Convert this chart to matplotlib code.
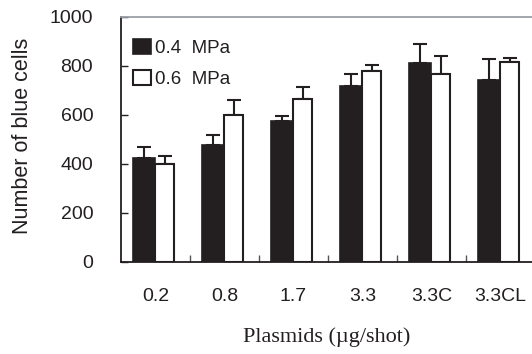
import numpy as np
import matplotlib
matplotlib.use("Agg")
import matplotlib.pyplot as plt

categories = ["0.2", "0.8", "1.7", "3.3", "3.3C", "3.3CL"]
mpa04 = [426, 476, 576, 718, 812, 743]
mpa04_err = [43, 41, 21, 48, 79, 86]
mpa06 = [401, 599, 667, 780, 766, 816]
mpa06_err = [32, 62, 49, 23, 75, 18]

dark = "#231f20"
plt.rcParams["font.family"] = ["Liberation Sans", "DejaVu Sans"]

fig = plt.figure(figsize=(5.32, 3.54), dpi=100)
ax = fig.add_axes([0.2274, 0.2599, 0.7726, 0.6921])

x = np.arange(len(categories))
w_black, w_white = 0.32, 0.27

b1 = ax.bar(x - w_black / 2, mpa04, w_black, color=dark, edgecolor=dark, linewidth=1.2,
            label="0.4  MPa", zorder=2)
b2 = ax.bar(x + w_white / 2, mpa06, w_white, color="white", edgecolor=dark, linewidth=1.5,
            label="0.6  MPa", zorder=2)
ax.errorbar(x - w_black / 2, mpa04, yerr=[np.zeros(len(x)), mpa04_err], fmt="none",
            ecolor=dark, elinewidth=1.5, capsize=5, capthick=1.5, zorder=1)
ax.errorbar(x + w_white / 2, mpa06, yerr=[np.zeros(len(x)), mpa06_err], fmt="none",
            ecolor=dark, elinewidth=1.5, capsize=5, capthick=1.5, zorder=1)

ax.set_xlim(-0.5, 5.46)
ax.set_ylim(0, 1000)
ax.set_yticks([0, 200, 400, 600, 800, 1000])
ax.set_xticks(x)
ax.set_xticklabels(categories)
ax.set_xticks(np.arange(0.5, 5.0, 1.0), minor=True)
ax.tick_params(axis="x", which="major", length=0, pad=19, labelsize=14, colors=dark)
ax.tick_params(axis="x", which="minor", direction="in", length=5, width=1, color="#555")
ax.tick_params(axis="y", direction="in", length=5, width=1, pad=20, labelsize=14,
               colors=dark)

for s in ["left", "bottom"]:
    ax.spines[s].set_color(dark)
    ax.spines[s].set_linewidth(1.3)
ax.spines["right"].set_visible(False)
ax.spines["top"].set_color("#9aa0a6")
ax.spines["top"].set_linewidth(1.3)

ax.set_ylabel("Number of blue cells", fontsize=15.5, color=dark)
ax.yaxis.set_label_coords(-0.215, 0.515)
ax.set_xlabel("Plasmids (µg/shot)", fontsize=16, family=["Liberation Serif", "DejaVu Serif"],
              color=dark)
ax.xaxis.set_label_coords(0.5, -0.265)

ax.legend(handles=[b1, b2], loc="upper left", frameon=False, fontsize=13.5,
          handlelength=0.95, handleheight=0.85, handletextpad=0.22, labelspacing=0.7,
          borderaxespad=0, borderpad=0, bbox_to_anchor=(0.029, 0.91), labelcolor=dark)

fig.savefig("out.png", dpi=100)
